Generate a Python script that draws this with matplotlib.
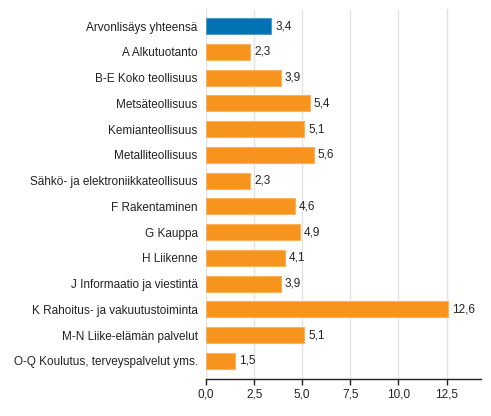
import matplotlib.pyplot as plt

plt.rcParams['font.family'] = ['Liberation Sans', 'DejaVu Sans']

kategoriat = [
    'Arvonlisäys yhteensä',
    'A Alkutuotanto',
    'B-E Koko teollisuus',
    'Metsäteollisuus',
    'Kemianteollisuus',
    'Metalliteollisuus',
    'Sähkö- ja elektroniikkateollisuus',
    'F Rakentaminen',
    'G Kauppa',
    'H Liikenne',
    'J Informaatio ja viestintä',
    'K Rahoitus- ja vakuutustoiminta',
    'M-N Liike-elämän palvelut',
    'O-Q Koulutus, terveyspalvelut yms.',
]
arvot = [3.4, 2.3, 3.9, 5.4, 5.1, 5.6, 2.3, 4.6, 4.9, 4.1, 3.9, 12.6, 5.1, 1.5]
tikit = [0, 2.5, 5, 7.5, 10, 12.5]

sininen = '#0072b2'
oranssi = '#f7941d'
varit = [sininen] + [oranssi] * (len(arvot) - 1)
reunat = ['#4d9bc9'] + ['#fab15e'] * (len(arvot) - 1)

fig = plt.figure(figsize=(4.91, 4.16), dpi=100)
ax = fig.add_axes([0.4196, 0.089, 0.5604, 0.889])

y = list(range(len(arvot)))
ax.barh(y, arvot, height=0.62, color=varit, edgecolor=reunat, linewidth=0.8, zorder=3)

for yi, v in zip(y, arvot):
    ax.text(v + 0.2, yi, f'{v:.1f}'.replace('.', ','), va='center', ha='left',
            fontsize=8.5, color='#222222', zorder=4)

ax.set_yticks(y)
ax.set_yticklabels(kategoriat, fontsize=8.5, color='#222222')
ax.set_ylim(13.7, -0.66)
ax.set_xlim(0, 14.3)
ax.set_xticks(tikit)
ax.set_xticklabels([f'{t:.1f}'.replace('.', ',') for t in tikit], fontsize=8.5, color='#222222')

ax.grid(axis='x', color='#e3e3e3', linewidth=1, zorder=0)
for s in ['top', 'right', 'left']:
    ax.spines[s].set_visible(False)
ax.spines['bottom'].set_color('#222222')
ax.spines['bottom'].set_linewidth(1)
ax.tick_params(axis='y', length=0, pad=6)
ax.tick_params(axis='x', length=4, width=1, color='#222222', pad=3)

fig.savefig('out.png', dpi=100)
